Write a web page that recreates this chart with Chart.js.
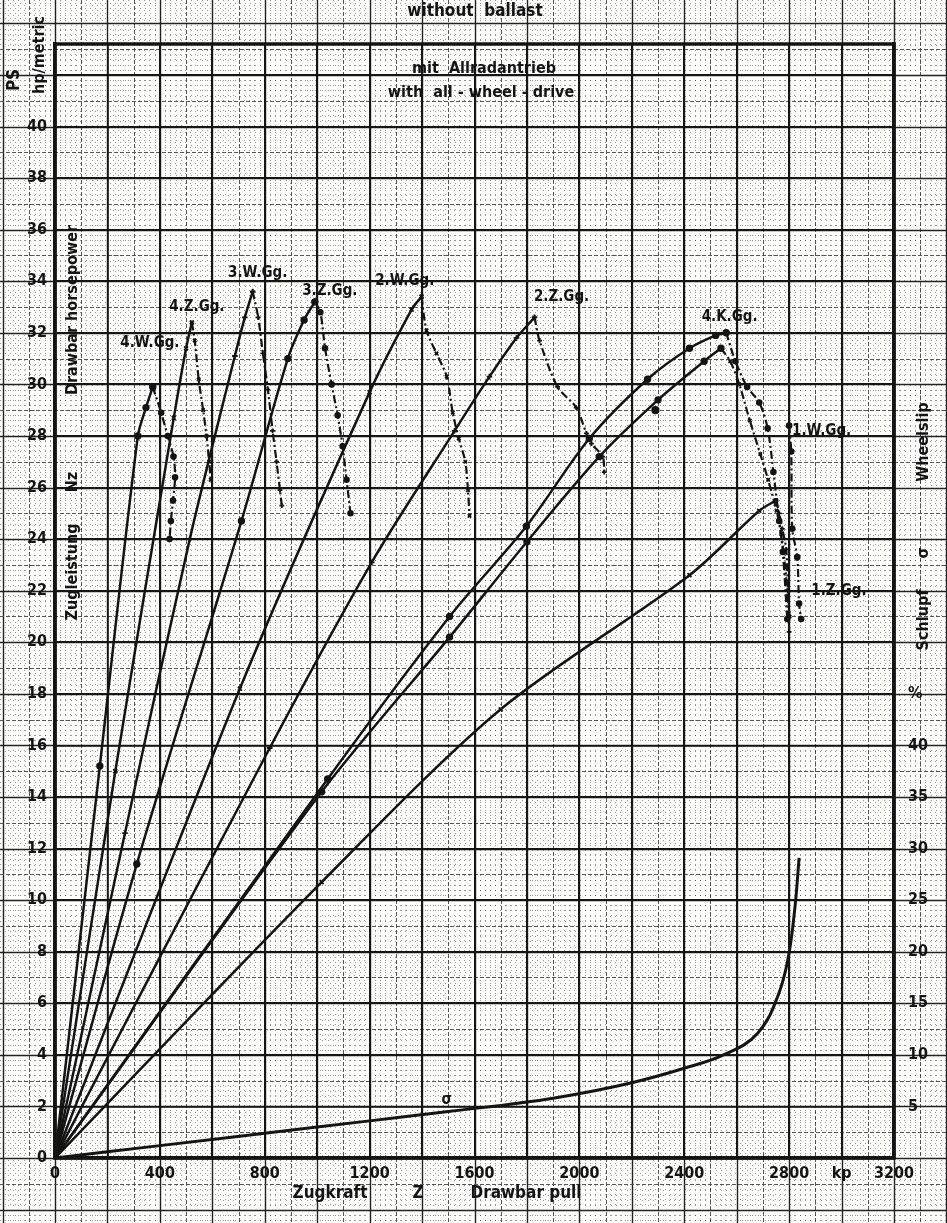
<!DOCTYPE html>
<html lang="de">
<head>
  <meta charset="UTF-8">
  <title>Zugleistung / Drawbar horsepower</title>
  <style>
    html, body { margin: 0; padding: 0; background: #fdfdfb; }
    #wrap { width: 947px; height: 1223px; position: relative; }
  </style>
</head>
<body>
  <div id="wrap"><canvas id="chart"></canvas></div>
  <script src="https://cdn.jsdelivr.net/npm/chart.js@4.4.1/dist/chart.umd.min.js"></script>
  <script>
    // values: pull Z in kp, drawbar power Nz in PS
    const pullLabels = [0, 400, 800, 1200, 1600, 2000, 2400, 2800, 3200]
    const hpLabels = [0, 2, 4, 6, 8, 10, 12, 14, 16, 18, 20, 22, 24, 26, 28, 30, 32, 34, 36, 38, 40]
    const slipLabels = [5, 10, 15, 20, 25, 30, 35, 40]

    // 4. W.Gg.
    const w4UpPull = [0, 171, 316, 347, 373]
    const w4UpHp = [0, 15.2, 28.0, 29.1, 29.9]
    const w4DownPull = [373, 405, 430, 452, 458, 450, 442, 437]
    const w4DownHp = [29.9, 28.9, 28.0, 27.2, 26.4, 25.5, 24.7, 24.0]
    // 4. Z.Gg.
    const z4UpPull = [0, 230, 453, 500, 522]
    const z4UpHp = [0, 15.0, 28.7, 31.4, 32.4]
    const z4DownPull = [522, 533, 548, 565, 578, 588, 594]
    const z4DownHp = [32.4, 31.7, 30.2, 29.0, 28.0, 27.0, 26.3]
    // 3. W.Gg.
    const w3UpPull = [0, 267, 514, 686, 724, 754]
    const w3UpHp = [0, 12.6, 24.0, 31.1, 32.6, 33.6]
    const w3DownPull = [754, 775, 793, 812, 830, 845, 858, 865]
    const w3DownHp = [33.6, 32.6, 31.2, 29.8, 28.2, 27.0, 25.9, 25.3]
    // 3. Z.Gg.
    const z3UpPull = [0, 312, 711, 888, 950, 991]
    const z3UpHp = [0, 11.4, 24.7, 31.0, 32.5, 33.2]
    const z3DownPull = [991, 1012, 1030, 1055, 1078, 1097, 1112, 1127]
    const z3DownHp = [33.2, 32.8, 31.4, 30.0, 28.8, 27.6, 26.3, 25.0]
    // 2. W.Gg.
    const w2UpPull = [0, 705, 1200, 1360, 1398]
    const w2UpHp = [0, 18.2, 29.7, 32.9, 33.4]
    const w2DownPull = [1398, 1417, 1455, 1494, 1517, 1540, 1565, 1575, 1581]
    const w2DownHp = [33.4, 32.1, 31.2, 30.3, 28.9, 27.9, 27.0, 25.9, 24.9]
    // 2. Z.Gg.
    const z2UpPull = [0, 819, 1208, 1524, 1657, 1760, 1829]
    const z2UpHp = [0, 15.9, 23.1, 28.2, 30.3, 31.8, 32.6]
    const z2DownPull = [1829, 1848, 1917, 1988, 2027, 2046, 2089, 2095]
    const z2DownHp = [32.6, 31.7, 29.9, 29.1, 28.1, 27.7, 27.2, 26.6]
    // 4. K.Gg.
    const k4UpPull = [0, 1040, 1505, 1798, 2038, 2260, 2420, 2520, 2560]
    const k4UpHp = [0, 14.7, 21.0, 24.5, 27.9, 30.2, 31.4, 31.9, 32.0]
    const k4DownPull = [2560, 2595, 2640, 2686, 2718, 2740, 2762, 2776, 2793]
    const k4DownHp = [32.0, 30.9, 29.9, 29.3, 28.3, 26.6, 24.7, 23.5, 20.9]
    // 1. W.Gg.
    const w1UpPull = [0, 1017, 1505, 1800, 2076, 2300, 2476, 2540]
    const w1UpHp = [0, 14.2, 20.2, 23.9, 27.2, 29.4, 30.9, 31.4]
    const w1DownPull = [2540, 2575, 2610, 2650, 2690, 2720, 2752, 2770, 2785, 2802]
    const w1DownHp = [31.4, 30.9, 30.0, 28.6, 27.3, 26.3, 25.1, 24.2, 22.9, 21.0]
    const w1EndPull = [2800, 2808, 2812, 2831, 2838, 2846]
    const w1EndHp = [28.4, 27.4, 24.4, 23.3, 21.5, 20.9]
    const w1LonePull = [2290]
    const w1LoneHp = [29.0]
    // 1. Z.Gg.
    const z1UpPull = [0, 1017, 1700, 2420, 2686, 2750]
    const z1UpHp = [0, 10.7, 17.4, 22.6, 25.1, 25.5]
    const z1DownPull = [2750, 2762, 2774, 2789, 2795, 2800]
    const z1DownHp = [25.5, 25.0, 24.4, 23.6, 22.0, 20.4]
    // Schlupf sigma in %
    const slipPull = [0, 400, 800, 1200, 1500, 1900, 2200, 2400, 2550, 2680, 2740, 2800, 2825, 2838]
    const slipPct = [0, 1.2, 2.4, 3.6, 4.5, 5.8, 7.3, 8.7, 10.0, 12.1, 14.6, 19.9, 25.0, 29.1]

    const INK = '#141414'
    const FONT = '"DejaVu Sans Condensed", "DejaVu Sans", sans-serif'

    const pts = (xs, ys) => xs.map((x, i) => ({ x: x, y: ys[i] }))

    const rise = (label, xs, ys, marker) => ({
      label: label,
      data: pts(xs, ys),
      borderColor: INK,
      borderWidth: 2.5,
      tension: 0.3,
      pointStyle: marker,
      pointRadius: ctx => (ctx.raw && ctx.raw.x === 0 ? 0 : 2.8),
      pointBorderWidth: 1.8,
      pointBorderColor: INK,
      pointBackgroundColor: INK
    })
    const fall = (label, xs, ys, marker) => Object.assign(rise(label, xs, ys, marker), {
      borderWidth: 2.2,
      borderDash: [8, 3, 2, 3],
      pointRadius: 2.4
    })

    const datasets = [
      rise('4.W.Gg.', w4UpPull, w4UpHp, 'circle'),
      fall('4.W.Gg. ', w4DownPull, w4DownHp, 'circle'),
      rise('4.Z.Gg.', z4UpPull, z4UpHp, 'crossRot'),
      fall('4.Z.Gg. ', z4DownPull, z4DownHp, 'crossRot'),
      rise('3.W.Gg.', w3UpPull, w3UpHp, 'cross'),
      fall('3.W.Gg. ', w3DownPull, w3DownHp, 'cross'),
      rise('3.Z.Gg.', z3UpPull, z3UpHp, 'circle'),
      fall('3.Z.Gg. ', z3DownPull, z3DownHp, 'circle'),
      rise('2.W.Gg.', w2UpPull, w2UpHp, 'crossRot'),
      fall('2.W.Gg. ', w2DownPull, w2DownHp, 'crossRot'),
      rise('2.Z.Gg.', z2UpPull, z2UpHp, 'cross'),
      fall('2.Z.Gg. ', z2DownPull, z2DownHp, 'cross'),
      rise('4.K.Gg.', k4UpPull, k4UpHp, 'circle'),
      fall('4.K.Gg. ', k4DownPull, k4DownHp, 'circle'),
      rise('1.W.Gg.', w1UpPull, w1UpHp, 'circle'),
      fall('1.W.Gg. ', w1DownPull, w1DownHp, 'crossRot'),
      fall('1.W.Gg.  ', w1EndPull, w1EndHp, 'circle'),
      Object.assign(rise('1.W.Gg. point', w1LonePull, w1LoneHp, 'circle'), { showLine: false, pointRadius: 3.2 }),
      rise('1.Z.Gg.', z1UpPull, z1UpHp, 'crossRot'),
      fall('1.Z.Gg. ', z1DownPull, z1DownHp, 'cross'),
      {
        label: 'Schlupf',
        data: pts(slipPull, slipPct),
        yAxisID: 'y2',
        borderColor: INK,
        borderWidth: 3,
        cubicInterpolationMode: 'monotone',
        pointRadius: 0
      }
    ]

    // graph paper behind everything, taken from the scales so it lines up
    const paper = {
      id: 'paper',
      beforeDraw(chart) {
        const { ctx, width, height } = chart
        const sx = chart.scales.x, sy = chart.scales.y
        ctx.save()
        ctx.fillStyle = '#fdfdfb'
        ctx.fillRect(0, 0, width, height)
        const stroke = (x1, y1, x2, y2, kind) => {
          ctx.beginPath()
          if (kind === 0) { ctx.strokeStyle = '#222'; ctx.setLineDash([]); ctx.lineWidth = 1.4 }
          else if (kind === 1) { ctx.strokeStyle = '#555'; ctx.setLineDash([4, 2]); ctx.lineWidth = 1 }
          else { ctx.strokeStyle = 'rgba(0,0,0,0.42)'; ctx.setLineDash([1, 4]); ctx.lineWidth = 1 }
          ctx.moveTo(x1, y1)
          ctx.lineTo(x2, y2)
          ctx.stroke()
        }
        for (let i = -12; i <= 180; i++) {
          const px = Math.round(sx.getPixelForValue(i * 20)) + 0.5
          if (px < 0 || px > width) continue
          stroke(px, 0, px, height, i % 10 === 0 ? 0 : (i % 5 === 0 ? 1 : 2))
        }
        for (let j = -40; j <= 240; j++) {
          const py = Math.round(sy.getPixelForValue(j * 0.2)) + 0.5
          if (py < 0 || py > height) continue
          stroke(0, py, width, py, j % 10 === 0 ? 0 : (j % 5 === 0 ? 1 : 2))
        }
        ctx.restore()
      },
      beforeDatasetsDraw(chart) {
        const { ctx, chartArea: a } = chart
        ctx.save()
        ctx.strokeStyle = INK
        ctx.lineWidth = 3.5
        ctx.setLineDash([])
        ctx.strokeRect(a.left, a.top, a.right - a.left, a.bottom - a.top)
        ctx.restore()
      }
    }

    const write = (ctx, s, x, y, size, upright) => {
      ctx.save()
      ctx.translate(x, y)
      if (upright) ctx.rotate(-Math.PI / 2)
      ctx.font = 'bold ' + size + 'px ' + FONT
      ctx.fillStyle = INK
      ctx.textAlign = 'center'
      ctx.textBaseline = 'middle'
      ctx.fillText(s, 0, 0)
      ctx.restore()
    }

    // curve names, placed in data units next to each peak
    const curveNames = [
      ['4.W.Gg.', 362, 31.6], ['4.Z.Gg.', 541, 33.0], ['3.W.Gg.', 773, 34.3],
      ['3.Z.Gg.', 1048, 33.6], ['2.W.Gg.', 1334, 34.0], ['2.Z.Gg.', 1932, 33.4],
      ['4.K.Gg.', 2573, 32.6], ['1.W.Gg.', 2924, 28.2], ['1.Z.Gg.', 2990, 22.0],
      ['σ', 1494, 2.25]
    ]

    const texts = {
      id: 'texts',
      afterDraw(chart) {
        const { ctx } = chart
        const sx = chart.scales.x, sy = chart.scales.y
        curveNames.forEach(([s, px, py]) => write(ctx, s, sx.getPixelForValue(px), sy.getPixelForValue(py), 15))
        write(ctx, 'without  ballast', 475, 12, 17)
        write(ctx, 'mit  Allradantrieb', 484, 69, 16)
        write(ctx, 'with  all - wheel - drive', 481, 93, 16)
        write(ctx, 'Zugkraft', 330, 1194, 17)
        write(ctx, 'Z', 418, 1194, 17)
        write(ctx, 'Drawbar pull', 526, 1194, 17)
        write(ctx, 'PS', 15, 80, 17, true)
        write(ctx, 'hp/metric', 40, 55, 16, true)
        write(ctx, 'Zugleistung', 73, 572, 16, true)
        write(ctx, 'Nz', 73, 482, 16, true)
        write(ctx, 'Drawbar horsepower', 73, 310, 16, true)
        write(ctx, 'Schlupf', 924, 620, 16, true)
        write(ctx, 'σ', 924, 553, 16, true)
        write(ctx, 'Wheelslip', 924, 442, 16, true)
      }
    }

    const tickFont = { family: FONT, weight: 'bold', size: 16 }

    new Chart(document.getElementById('chart'), {
      type: 'line',
      data: { datasets: datasets },
      plugins: [paper, texts],
      options: {
        responsive: true,
        maintainAspectRatio: false,
        animation: false,
        devicePixelRatio: 1,
        layout: { padding: { top: 44, left: 0, right: 0, bottom: 0 } },
        plugins: { legend: { display: false }, tooltip: { enabled: false } },
        scales: {
          x: {
            type: 'linear',
            min: 0,
            max: 3200,
            afterFit: s => { s.height = 65 },
            ticks: {
              stepSize: 200,
              autoSkip: false,
              maxRotation: 0,
              padding: 6,
              color: INK,
              font: tickFont,
              callback: v => (pullLabels.includes(v) ? String(v) : (v === 3000 ? 'kp' : ''))
            },
            grid: { color: INK, lineWidth: 1.8, drawTicks: false },
            border: { color: INK, width: 3.5 }
          },
          y: {
            min: 0,
            max: 43.2,
            afterFit: s => { s.width = 55 },
            ticks: {
              stepSize: 2,
              autoSkip: false,
              padding: 8,
              color: INK,
              font: tickFont,
              callback: v => (hpLabels.includes(v) ? String(v) : '')
            },
            grid: { color: INK, lineWidth: 1.8, drawTicks: false },
            border: { color: INK, width: 3.5 }
          },
          y2: {
            position: 'right',
            min: 0,
            max: 108,
            afterFit: s => { s.width = 53 },
            ticks: {
              stepSize: 5,
              autoSkip: false,
              padding: 14,
              color: INK,
              font: tickFont,
              callback: v => (slipLabels.includes(v) ? String(v) : (v === 45 ? '%' : ''))
            },
            grid: { drawOnChartArea: false, drawTicks: false },
            border: { color: INK, width: 3.5 }
          }
        }
      }
    })
  </script>
</body>
</html>
